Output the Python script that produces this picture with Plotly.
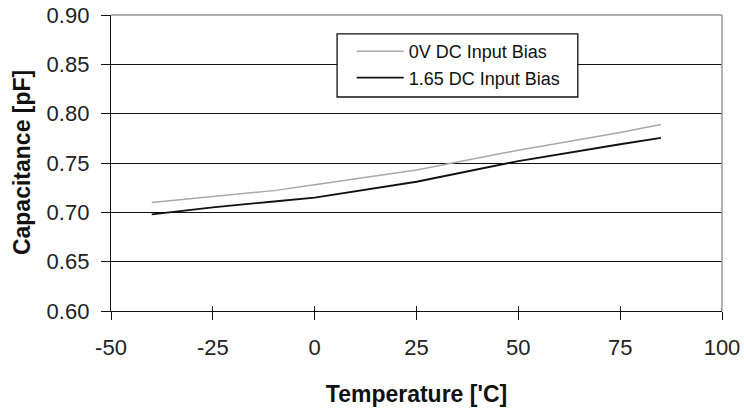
import plotly.graph_objects as go

temps = [-40, -25, -10, 0, 25, 50, 75, 85]
bias_0v = [0.710, 0.716, 0.722, 0.728, 0.743, 0.763, 0.781, 0.789]
bias_165 = [0.698, 0.705, 0.711, 0.715, 0.731, 0.752, 0.769, 0.7755]
series_names = ["0V DC Input Bias", "1.65 DC Input Bias"]
x_ticks = [-50, -25, 0, 25, 50, 75, 100]
y_ticks = [0.60, 0.65, 0.70, 0.75, 0.80, 0.85, 0.90]
y_title = "Capacitance [pF]"
x_title = "Temperature ['C]"

fig = go.Figure()
fig.add_trace(go.Scatter(x=temps, y=bias_0v, mode="lines", name=series_names[0],
                         line=dict(color="#a8a8a8", width=1.5)))
fig.add_trace(go.Scatter(x=temps, y=bias_165, mode="lines", name=series_names[1],
                         line=dict(color="#111111", width=1.8)))
# invisible trace on overlay axis for inward x ticks
fig.add_trace(go.Scatter(x=[x_ticks[0]], y=[y_ticks[0]], xaxis="x2", mode="markers",
                         marker=dict(opacity=0), showlegend=False, hoverinfo="skip"))

tick_font = dict(family="Liberation Sans, Arial", size=22, color="#222")
title_font = dict(family="Liberation Sans, Arial", size=23, color="#111")

fig.update_layout(
    width=744, height=408,
    margin=dict(l=111, r=22, t=15, b=97),
    paper_bgcolor="white", plot_bgcolor="white",
    xaxis=dict(range=[-50, 100], tickvals=x_ticks, ticktext=[str(v) for v in x_ticks],
               showgrid=False, zeroline=False, showline=True, linecolor="#111", linewidth=1.3,
               ticks="outside", ticklen=8, tickwidth=1.3, tickcolor="#111",
               tickfont=tick_font, ticklabelstandoff=8, automargin=False,
               title=dict(text="<b>%s</b>" % x_title, font=title_font, standoff=27)),
    xaxis2=dict(range=[-50, 100], tickvals=x_ticks, overlaying="x", side="bottom",
                showgrid=False, zeroline=False, showline=False, showticklabels=False,
                ticks="inside", ticklen=5, tickwidth=1.3, tickcolor="#111", automargin=False),
    yaxis=dict(range=[0.60, 0.90], tickvals=y_ticks, ticktext=["%.2f" % v for v in y_ticks],
               showgrid=True, gridcolor="#111", gridwidth=1.2, zeroline=False,
               showline=True, linecolor="#111", linewidth=1.3,
               ticks="outside", ticklen=9, tickwidth=1.3, tickcolor="#111",
               tickfont=tick_font, ticklabelstandoff=7, automargin=False),
    legend=dict(x=0.394, y=0.9392, xanchor="left", yanchor="top",
                bgcolor="rgba(0,0,0,0)", borderwidth=0,
                font=dict(family="Liberation Sans, Arial", size=18, color="#111"),
                itemwidth=47, tracegroupgap=0),
    annotations=[
        dict(text="<b>%s</b>" % y_title, xref="paper", yref="paper", x=-0.1457, y=0.503,
             xanchor="center", yanchor="middle", textangle=-90, showarrow=False,
             font=title_font),
    ],
    shapes=[
        dict(type="line", xref="paper", yref="paper", x0=0, x1=1, y0=1, y1=1,
             line=dict(color="#999999", width=1.5), layer="above"),
        dict(type="line", xref="paper", yref="paper", x0=1, x1=1, y0=0, y1=1,
             line=dict(color="#999999", width=1.5), layer="above"),
        # legend frame
        dict(type="rect", xref="paper", yref="paper", x0=0.370, x1=0.764, y0=0.723, y1=0.936,
             line=dict(color="#111", width=1.3), fillcolor="white", layer="above"),
    ],
)

fig.write_html("out.html", config={"displayModeBar": False},
               post_script="document.body.style.margin='0';")
